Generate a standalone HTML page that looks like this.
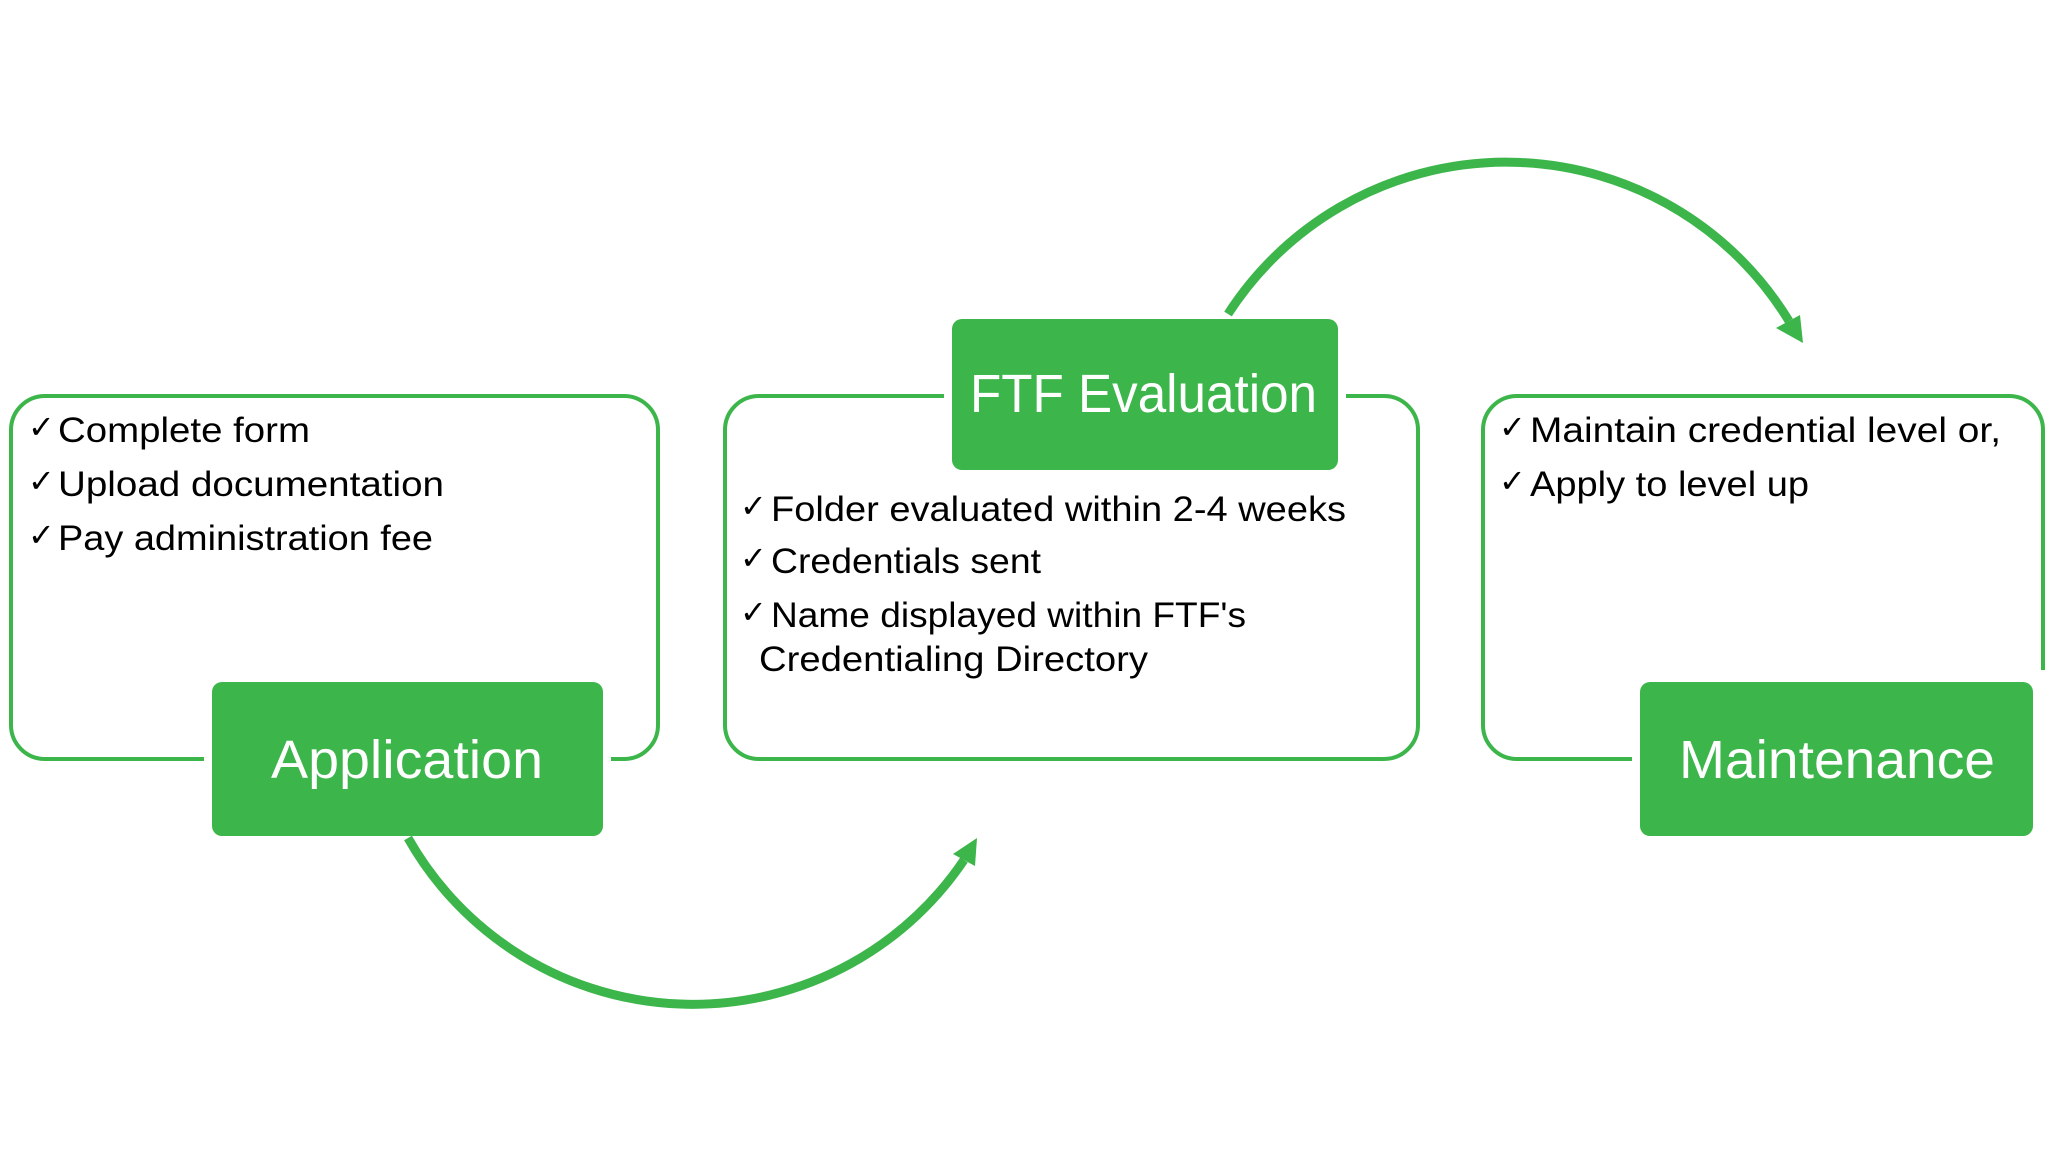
<!DOCTYPE html>
<html><head><meta charset="utf-8"><style>html,body{margin:0;padding:0;background:#fff}svg{display:block}</style></head>
<body>
<svg width="2053" height="1155" viewBox="0 0 2053 1155" xmlns="http://www.w3.org/2000/svg">
<g fill="none" stroke="#3cb54a" stroke-width="4">
<rect x="11" y="396" width="647" height="363" rx="34"/>
<rect x="725" y="396" width="693" height="363" rx="34"/>
<rect x="1483" y="396" width="560" height="363" rx="34"/>
</g>
<g fill="#fff">
<rect x="204" y="670" width="407" height="100"/>
<rect x="944" y="380" width="402" height="30"/>
<rect x="1632" y="670" width="420" height="100"/>
</g>
<g fill="#3cb54a">
<rect x="212" y="682" width="391" height="154" rx="10"/>
<rect x="952" y="319" width="386" height="151" rx="10"/>
<rect x="1640" y="682" width="393" height="154" rx="10"/>
</g>
<g fill="none" stroke="#3cb54a" stroke-width="9">
<path d="M408,838 A327,327 0 0 0 964,860"/>
<path d="M1228,314 A331,331 0 0 1 1789,321"/>
</g>
<g fill="#3cb54a">
<polygon points="977,838 975,866 953,854"/>
<polygon points="1803,343 1800,315 1776,328"/>
</g>
<g font-family="Liberation Sans, DejaVu Sans, sans-serif" fill="#fff" font-size="54">
<text x="271" y="778" textLength="272" lengthAdjust="spacingAndGlyphs">Application</text>
<text x="970" y="412" textLength="347" lengthAdjust="spacingAndGlyphs">FTF Evaluation</text>
<text x="1679" y="778" textLength="316" lengthAdjust="spacingAndGlyphs">Maintenance</text>
</g>
<g font-family="DejaVu Sans, sans-serif" fill="#000" font-size="32">
<text x="28" y="438">✓</text><text x="28" y="492">✓</text><text x="28" y="546">✓</text>
<text x="740" y="517">✓</text><text x="740" y="569">✓</text><text x="740" y="623">✓</text>
<text x="1499" y="438">✓</text><text x="1499" y="492">✓</text>
</g>
<g font-family="Liberation Sans, sans-serif" fill="#000" font-size="35">
<text x="58" y="442" textLength="252" lengthAdjust="spacingAndGlyphs">Complete form</text>
<text x="58" y="496" textLength="386" lengthAdjust="spacingAndGlyphs">Upload documentation</text>
<text x="58" y="550" textLength="375" lengthAdjust="spacingAndGlyphs">Pay administration fee</text>
<text x="771" y="521" textLength="575" lengthAdjust="spacingAndGlyphs">Folder evaluated within 2-4 weeks</text>
<text x="771" y="573" textLength="270" lengthAdjust="spacingAndGlyphs">Credentials sent</text>
<text x="771" y="627" textLength="475" lengthAdjust="spacingAndGlyphs">Name displayed within FTF's</text>
<text x="759" y="671" textLength="389" lengthAdjust="spacingAndGlyphs">Credentialing Directory</text>
<text x="1530" y="442" textLength="471" lengthAdjust="spacingAndGlyphs">Maintain credential level or,</text>
<text x="1530" y="496" textLength="279" lengthAdjust="spacingAndGlyphs">Apply to level up</text>
</g>
</svg>
</body></html>
